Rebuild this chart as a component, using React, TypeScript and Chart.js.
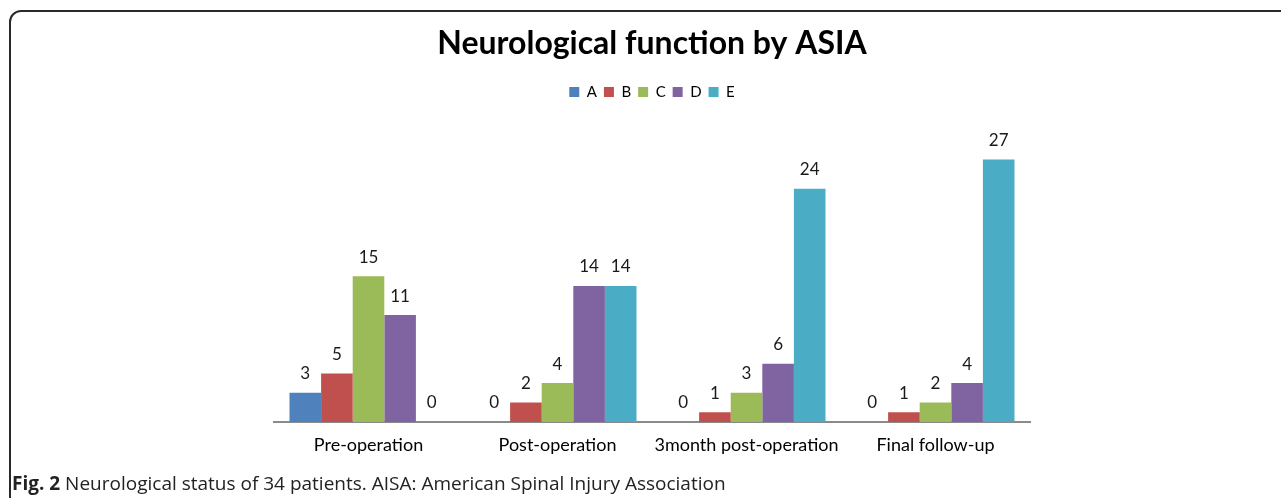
import React, { useEffect, useRef } from "react";
import { Chart, registerables } from "chart.js";

Chart.register(...registerables);

const categories = ["Pre-operation", "Post-operation", "3month post-operation", "Final follow-up"];
const seriesNames = ["A", "B", "C", "D", "E"];
const seriesA = [3, 0, 0, 0];
const seriesB = [5, 2, 1, 1];
const seriesC = [15, 4, 3, 2];
const seriesD = [11, 14, 6, 4];
const seriesE = [0, 14, 24, 27];
const colors = ["#4F81BD", "#C0504D", "#9BBB59", "#8064A2", "#4BACC6"];

const FONT = "Lato, 'Open Sans', sans-serif";
const CAPTION_FONT = "'Open Sans', Lato, sans-serif";

const valueLabels = {
  id: "valueLabels",
  afterDatasetsDraw(chart: any) {
    const ctx = chart.ctx;
    ctx.save();
    ctx.font = `17px ${FONT}`;
    ctx.fillStyle = "#1a1a1a";
    ctx.textAlign = "center";
    ctx.textBaseline = "middle";
    chart.data.datasets.forEach((ds: any, i: number) => {
      const meta = chart.getDatasetMeta(i);
      meta.data.forEach((bar: any, j: number) => {
        ctx.fillText(String(ds.data[j]), bar.x, bar.y - 19);
      });
    });
    ctx.restore();
  },
};

const legendSpace = {
  id: "legendSpace",
  beforeInit(chart: any) {
    const orig = chart.legend.fit;
    chart.legend.fit = function () {
      orig.bind(chart.legend)();
      this.height += 21;
    };
  },
};

export default function App() {
  const ref = useRef<HTMLCanvasElement | null>(null);
  useEffect(() => {
    document.body.style.margin = "0";
    const all = [seriesA, seriesB, seriesC, seriesD, seriesE];
    const chart = new Chart(ref.current as HTMLCanvasElement, {
      type: "bar",
      data: {
        labels: categories,
        datasets: seriesNames.map((n, i) => ({
          label: n,
          data: all[i],
          backgroundColor: colors[i],
          borderWidth: 0,
          categoryPercentage: 0.836,
          barPercentage: 1,
        })),
      },
      options: {
        animation: false,
        responsive: false,
        layout: { padding: { left: 274, right: 251, top: 20, bottom: 36 } },
        plugins: {
          title: {
            display: true,
            text: "Neurological function by ASIA",
            font: { family: FONT, size: 32, weight: "bold" },
            color: "#000",
            padding: { top: 4, bottom: 15 },
          },
          legend: {
            position: "top",
            labels: {
              boxWidth: 10,
              boxHeight: 10,
              padding: 7,
              color: "#000",
              font: { family: FONT, size: 15 },
            },
          },
          tooltip: { enabled: false },
        },
        scales: {
          x: {
            grid: { display: false, drawTicks: false },
            border: { display: true, color: "#8a8a8a", width: 2 },
            ticks: { color: "#000", font: { family: FONT, size: 18 }, padding: 12, maxRotation: 0 },
            afterFit: (s: any) => { s.height = 40; },
          },
          y: {
            display: false,
            min: 0,
            max: 30,
          },
        },
      },
      plugins: [valueLabels, legendSpace],
    });
    return () => chart.destroy();
  }, []);

  return (
    <div style={{ position: "fixed", left: 0, top: 0, width: 1281, height: 498, overflow: "hidden", background: "#fff" }}>
      <div style={{ position: "absolute", left: 9, top: 10, width: 1400, height: 600, border: "2px solid #2a2a2a", borderTopLeftRadius: 12, boxSizing: "border-box" }} />
      <canvas ref={ref} width={1281} height={498} style={{ position: "absolute", left: 0, top: 0 }} />
      <div style={{ position: "absolute", left: 12, top: 472, fontFamily: CAPTION_FONT, fontSize: 19, color: "#222", whiteSpace: "nowrap", lineHeight: "22px" }}>
        <b>Fig. 2</b> Neurological status of 34 patients. AISA: American Spinal Injury Association
      </div>
    </div>
  );
}
